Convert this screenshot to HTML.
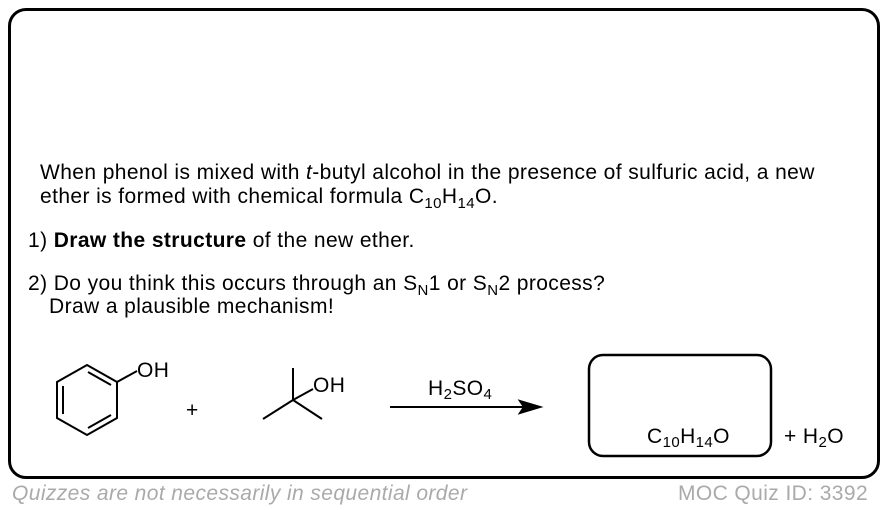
<!DOCTYPE html>
<html><head><style>
body{margin:0;width:888px;height:510px;background:#fff;font-family:"Liberation Sans",Arial,sans-serif;position:relative;overflow:hidden}
.box{position:absolute;left:8px;top:8px;width:866px;height:465px;border:3px solid #000;border-radius:18px}
.t{position:absolute;font-size:21px;letter-spacing:0.4px;color:#000;white-space:nowrap;line-height:1}
sub{font-size:15px;vertical-align:-5px;line-height:0}
</style></head><body>
<div class="box"></div>
<div class="t" style="left:40px;top:162px">When phenol is mixed with <i>t</i>-butyl alcohol in the presence of sulfuric acid, a new</div>
<div class="t" style="left:40px;top:186px">ether is formed with chemical formula C<sub>10</sub>H<sub>14</sub>O.</div>
<div class="t" style="left:28px;top:230px">1) <b>Draw the structure</b> of the new ether.</div>
<div class="t" style="left:28px;top:273px">2) Do you think this occurs through an S<sub>N</sub>1 or S<sub>N</sub>2 process?</div>
<div class="t" style="left:49px;top:296px">Draw a plausible mechanism!</div>
<svg width="888" height="510" style="position:absolute;left:0;top:0" stroke="#000" stroke-width="2" fill="none">
<polygon points="87,365 117,382 117,418 87,435 57,418 57,382"/>
<line x1="63" y1="386" x2="63" y2="414"/>
<line x1="88" y1="372" x2="111" y2="385"/>
<line x1="88" y1="428" x2="111" y2="415"/>
<line x1="117" y1="382" x2="137" y2="371"/>
<line x1="293" y1="368" x2="293" y2="400"/>
<line x1="293" y1="400" x2="263" y2="419"/>
<line x1="293" y1="400" x2="322" y2="419"/>
<line x1="293" y1="400" x2="313" y2="389"/>
<line x1="390" y1="407" x2="528" y2="407"/>
<polygon points="540,407 520,401 524,407 520,413" fill="#000"/>
<rect x="589" y="355" width="182" height="101" rx="14" stroke-width="2.5"/>
<g stroke="none" fill="#000" font-family="Liberation Sans,Arial,sans-serif" font-size="21" letter-spacing="0.4">
<text x="137" y="377">OH</text>
<text x="186" y="417">+</text>
<text x="313" y="392">OH</text>
<text x="428" y="395">H<tspan font-size="15" dy="4">2</tspan><tspan dy="-4">SO</tspan><tspan font-size="15" dy="4">4</tspan></text>
<text x="647" y="443">C<tspan font-size="15" dy="4">10</tspan><tspan dy="-4">H</tspan><tspan font-size="15" dy="4">14</tspan><tspan dy="-4">O</tspan></text>
<text x="784" y="443">+ H<tspan font-size="15" dy="4">2</tspan><tspan dy="-4">O</tspan></text>
</g>
<g stroke="none" fill="#aaa" font-family="Liberation Sans,Arial,sans-serif" font-size="21" letter-spacing="0.4">
<text x="12" y="500" font-style="italic">Quizzes are not necessarily in sequential order</text>
<text x="678" y="500">MOC Quiz ID: 3392</text>
</g>
</svg>
</body></html>
